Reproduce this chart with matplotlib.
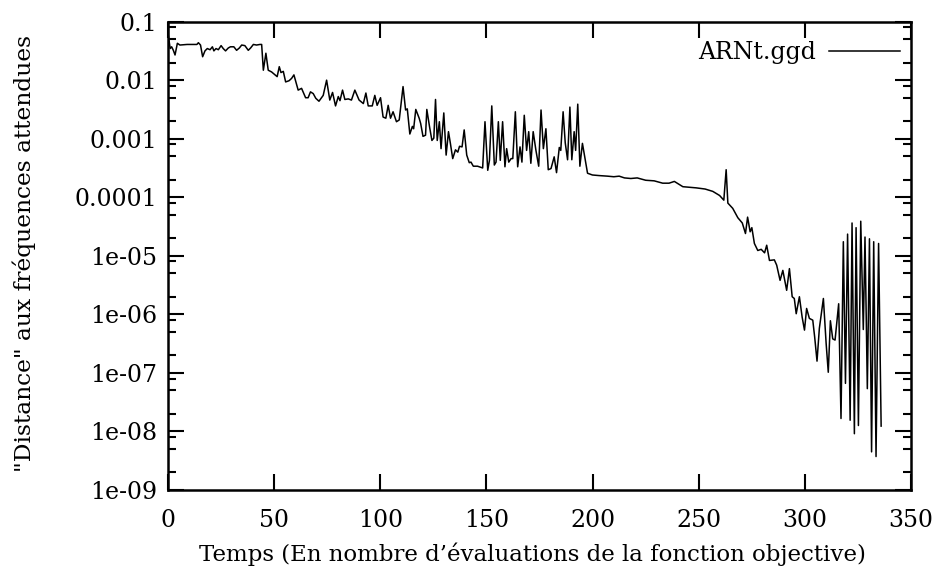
import numpy as np
import matplotlib
matplotlib.use("Agg")
import matplotlib.pyplot as plt
from matplotlib.ticker import LogLocator, NullFormatter, FixedLocator

# evaluations (x) and log10 of the distance
evals = [
    0, 1, 1.7, 2.5, 3.3, 4.4, 5.6, 9, 13.6, 14.3,
    15.3, 16.3, 17.4, 18.5, 19.8, 20.9, 21.6, 22.6, 23.7, 25,
    26, 27.1, 28.4, 29.4, 31, 32.3, 33.6, 34.7, 36.2, 37.8,
    38.9, 40.2, 41.7, 43.3, 44.1, 44.9, 46.1, 47.2, 48.8, 50.4,
    51.4, 52.4, 53.2, 54.3, 55.4, 57, 58.2, 59.3, 61.3, 62.9,
    64.8, 66, 67.1, 68.4, 69.6, 71.1, 73.1, 74.7, 76.2, 77.5,
    78.9, 80.2, 81, 82.2, 83.3, 84.9, 86.4, 88, 90, 92,
    93.2, 94.3, 96.2, 97.4, 98.5, 100.1, 101.3, 102.6, 103.7, 104.8,
    106, 107.6, 108.9, 110.7, 111.9, 112.7, 113.9, 115.1, 115.7, 116.7,
    118.3, 119, 120.1, 121.3, 121.9, 123.2, 124.3, 125.2, 126, 126.8,
    127.8, 128.6, 129.9, 131, 132.1, 133, 134.1, 135.4, 136.5, 137.3,
    138.5, 139.5, 140.7, 141.9, 142.7, 143.8, 145.8, 148.2, 149.3, 150.6,
    151.4, 152.5, 153.7, 154.5, 155.6, 156.5, 157.6, 158.7, 159.5, 160.5,
    161.6, 162.4, 163.6, 164.7, 165.8, 166.7, 167.8, 168.9, 169.9, 170.9,
    172, 173.3, 174.6, 175.7, 176.8, 178, 179.1, 180.4, 181.9, 183,
    184.3, 185, 186.1, 187.1, 188.2, 189.3, 190.2, 191.3, 192, 193,
    194, 195.2, 197.6, 199.9, 203, 207, 210, 212.5, 215, 218,
    221, 225, 229, 233, 236, 238.5, 242.5, 248.8, 253, 256.6,
    259.8, 261.8, 262.9, 263.7, 266, 268.4, 270.5, 272, 273, 274.2,
    275, 276.2, 277.8, 279.4, 281, 282, 283.3, 285.6, 286.7, 288.3,
    289.6, 291.4, 292.7, 294, 295, 295.9, 297.4, 298.7, 299.8, 300.8,
    302.1, 303.7, 304.6, 305.7, 306.8, 308.7, 310, 311, 312, 313.1,
    314.2, 315.9, 317, 318.1, 319.1, 320.1, 321.3, 322.2, 323.3, 324.1,
    325.2, 326.3, 327.5, 328.3, 329.4, 330.4, 331.4, 332.4, 333.5, 334.7,
    335.9,
]
log_dist = [
    -1.20, -1.46, -1.43, -1.49, -1.57, -1.37, -1.40, -1.39, -1.39, -1.36,
    -1.40, -1.60, -1.50, -1.46, -1.48, -1.43, -1.50, -1.46, -1.48, -1.41,
    -1.46, -1.50, -1.45, -1.43, -1.43, -1.49, -1.45, -1.40, -1.41, -1.49,
    -1.45, -1.39, -1.40, -1.39, -1.39, -1.83, -1.54, -1.83, -1.86, -1.91,
    -1.94, -1.77, -1.87, -1.85, -2.03, -2.01, -1.97, -1.91, -2.17, -2.14,
    -2.30, -2.30, -2.20, -2.23, -2.31, -2.36, -2.26, -2.00, -2.34, -2.21,
    -2.44, -2.28, -2.35, -2.17, -2.33, -2.32, -2.34, -2.17, -2.34, -2.40,
    -2.22, -2.44, -2.44, -2.26, -2.43, -2.30, -2.63, -2.65, -2.43, -2.65,
    -2.54, -2.71, -2.68, -2.11, -2.51, -2.49, -2.92, -2.79, -2.83, -2.50,
    -2.65, -2.74, -2.96, -2.94, -2.50, -2.80, -3.03, -2.99, -2.33, -3.03,
    -2.71, -3.17, -2.56, -3.28, -2.88, -3.08, -3.34, -3.19, -3.23, -3.13,
    -3.14, -2.85, -3.28, -3.41, -3.40, -3.47, -3.47, -3.50, -2.71, -3.54,
    -3.37, -2.44, -3.45, -3.40, -2.71, -3.37, -2.71, -3.48, -3.17, -3.40,
    -3.34, -3.34, -2.54, -3.48, -3.14, -3.40, -2.60, -3.20, -2.88, -3.42,
    -2.88, -3.20, -3.47, -2.51, -3.17, -2.83, -3.53, -3.51, -3.31, -3.58,
    -3.15, -3.20, -2.54, -3.07, -3.36, -2.46, -3.36, -2.88, -3.20, -2.41,
    -3.47, -3.08, -3.59, -3.62, -3.63, -3.64, -3.65, -3.64, -3.67, -3.68,
    -3.67, -3.71, -3.72, -3.76, -3.76, -3.73, -3.82, -3.84, -3.86, -3.90,
    -3.97, -4.05, -3.53, -4.10, -4.19, -4.35, -4.44, -4.62, -4.34, -4.59,
    -4.52, -4.79, -4.91, -4.89, -4.95, -4.82, -5.08, -5.07, -5.16, -5.42,
    -5.25, -5.59, -5.22, -5.70, -5.73, -5.99, -5.70, -6.05, -6.27, -5.90,
    -6.07, -6.10, -6.39, -6.80, -6.24, -5.73, -6.50, -6.99, -6.11, -6.42,
    -6.44, -5.82, -7.78, -4.76, -7.18, -4.63, -7.81, -4.44, -8.04, -4.52,
    -7.90, -4.41, -6.26, -4.68, -7.27, -4.71, -8.35, -4.76, -8.43, -4.79,
    -7.91,
]
dist = 10.0 ** np.array(log_dist)

yticks = [1e-1, 1e-2, 1e-3, 1e-4, 1e-5, 1e-6, 1e-7, 1e-8, 1e-9]
ytick_labels = ["0.1", "0.01", "0.001", "0.0001", "1e-05", "1e-06", "1e-07", "1e-08", "1e-09"]
xticks = [0, 50, 100, 150, 200, 250, 300, 350]

plt.rcParams["font.family"] = "DejaVu Serif"
fig = plt.figure(figsize=(9.52, 5.69), dpi=100)
ax = fig.add_axes([0.1765, 0.139, 0.7805, 0.823])

ax.plot(evals, dist, color="black", lw=1.1, label="ARNt.ggd")
ax.set_yscale("log")
ax.set_xlim(0, 350)
ax.set_ylim(1e-9, 1e-1)

ax.yaxis.set_major_locator(FixedLocator(yticks))
ax.set_yticklabels(ytick_labels)
ax.yaxis.set_minor_locator(LogLocator(base=10, subs=(2, 5, 8)))
ax.yaxis.set_minor_formatter(NullFormatter())
ax.set_xticks(xticks)

ax.tick_params(which="both", direction="in", top=True, right=True, width=1.5, labelsize=17)
ax.tick_params(which="major", length=11.5)
ax.tick_params(which="minor", length=6)
ax.tick_params(axis="x", pad=13.5)
ax.tick_params(axis="y", pad=8)
for sp in ax.spines.values():
    sp.set_linewidth(1.8)

ax.set_xlabel("Temps (En nombre d\u2019évaluations de la fonction objective)", fontsize=16.5)
ax.xaxis.set_label_coords(0.49, -0.112)
ax.set_ylabel("\"Distance\" aux fréquences attendues", fontsize=16.8)
ax.yaxis.set_label_coords(-0.178, 0.505)

ax.legend(loc="upper right", bbox_to_anchor=(1.0, 0.982), frameon=False, markerfirst=False,
          handlelength=3.0, fontsize=17, borderaxespad=0.07, handletextpad=0.55)

fig.savefig("out.png", dpi=100)
